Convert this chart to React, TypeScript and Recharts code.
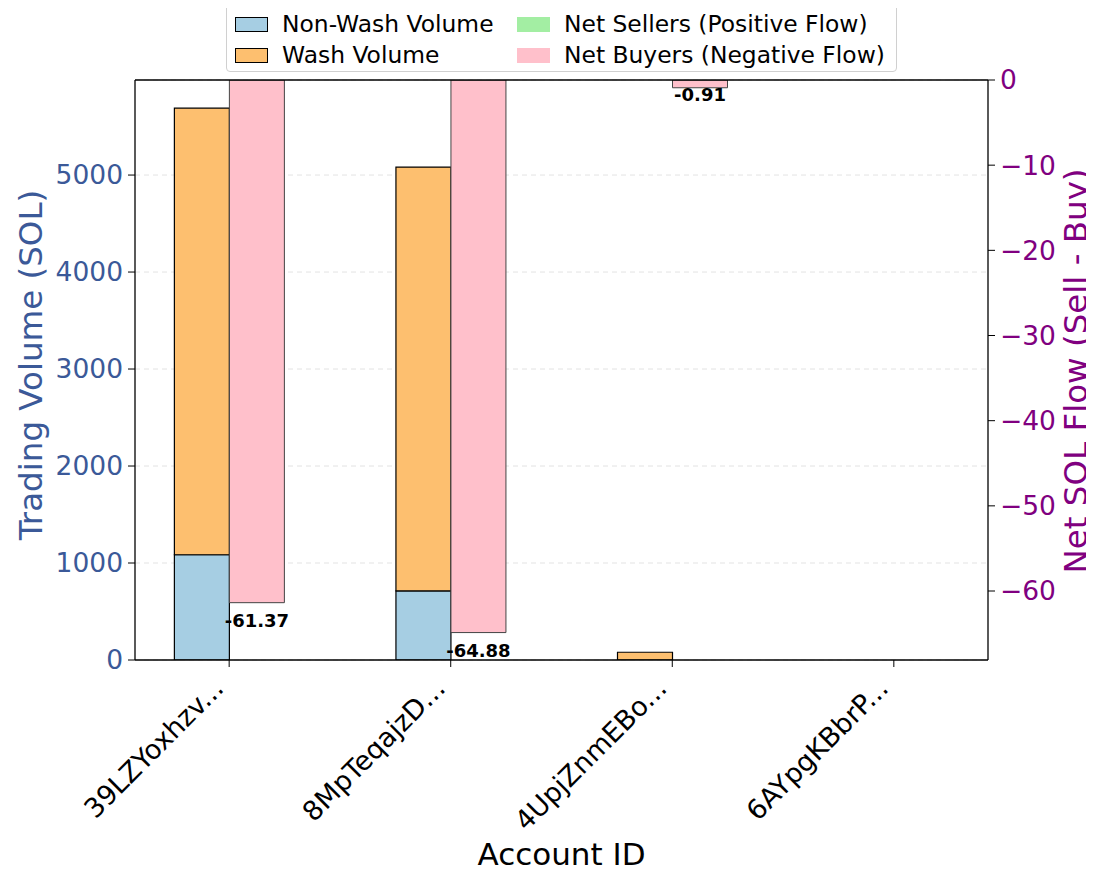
import React from "react";
import {
  BarChart,
  Bar,
  XAxis,
  YAxis,
  CartesianGrid,
  ReferenceLine,
  LabelList,
  Label,
  Cell,
} from "recharts";

const accounts = ["39LZYoxhzv...", "8MpTeqajzD...", "4UpjZnmEBo...", "6AYpgKBbrP..."];
const nonWashVolume = [1085, 712, 0, 0];
const washVolume = [4605, 4370, 80, 0];
const netFlow = [-61.37, -64.88, -0.91, 0];

const volumeTicks = [0, 1000, 2000, 3000, 4000, 5000];
const flowTicks = [0, -10, -20, -30, -40, -50, -60];

const data = accounts.map((name, i) => ({
  idx: i,
  name,
  nonWash: nonWashVolume[i],
  wash: washVolume[i],
  flow: netFlow[i],
}));

const FONT = "DejaVu Sans";
const BLUE = "#3b5998";
const PURPLE = "#800080";

const XTick = (props: any) => {
  const { x, y, payload } = props;
  const ax = x - 4;
  const ay = y + 21;
  return (
    <text
      x={ax}
      y={ay}
      transform={`rotate(-45, ${ax}, ${ay})`}
      textAnchor="end"
      fontSize={27}
      fontFamily={FONT}
      fill="#000"
    >
      {accounts[payload.value]}
    </text>
  );
};

const FlowLabel = (props: any) => {
  const { x, y, width, height, value } = props;
  if (!value) return null;
  const top = Math.min(y, y + height);
  // text top sits at 1.02 * value on the flow axis
  const ty = top + Math.abs(height) * 1.02;
  return (
    <text
      x={x + width / 2}
      y={ty}
      textAnchor="middle"
      dominantBaseline="hanging"
      fontSize={18}
      fontWeight="bold"
      fontFamily={FONT}
      fill="#000"
    >
      {Number(value).toFixed(2)}
    </text>
  );
};

const LegendBox = () => {
  const items = [
    { label: "Non-Wash Volume", color: "#a6cee3", edge: true, left: 8, top: 7 },
    { label: "Wash Volume", color: "#fdbf6f", edge: true, left: 8, top: 38 },
    { label: "Net Sellers (Positive Flow)", color: "#a3eea3", edge: false, left: 290, top: 7 },
    { label: "Net Buyers (Negative Flow)", color: "#ffc0cb", edge: false, left: 290, top: 38 },
  ];
  return (
    <div
      style={{
        position: "absolute",
        left: 226,
        top: 3,
        width: 671,
        height: 69,
        border: "1px solid #d0d0d0",
        borderRadius: 4,
        background: "#fff",
        fontFamily: FONT,
        fontSize: 23.4,
        boxSizing: "border-box",
      }}
    >
      {items.map((it) => (
        <div
          key={it.label}
          style={{
            position: "absolute",
            left: it.left,
            top: it.top,
            display: "flex",
            alignItems: "center",
            whiteSpace: "nowrap",
          }}
        >
          <div
            style={{
              width: 33,
              height: 15,
              background: it.color,
              border: it.edge ? "1.3px solid #000" : "none",
              boxSizing: "border-box",
              marginRight: 14,
            }}
          />
          <span style={{ lineHeight: "26px" }}>{it.label}</span>
        </div>
      ))}
    </div>
  );
};

export default function App() {
  return (
    <div style={{ position: "relative", width: 1094, height: 876, margin: "-8px 0 0 -8px", background: "#fff" }}>
      <BarChart
        width={1094}
        height={876}
        data={data}
        margin={{ top: 80, right: 0, left: 0, bottom: 0 }}
        barGap={0}
        barSize={55}
      >
        <CartesianGrid
          yAxisId="left"
          vertical={false}
          stroke="#e3e3e3"
          strokeDasharray="5 4"
        />
        <XAxis
          dataKey="idx"
          type="number"
          domain={[-0.425, 3.425]}
          ticks={[0, 1, 2, 3]}
          allowDataOverflow
          height={216}
          tick={<XTick />}
          tickSize={7}
          axisLine={{ stroke: "#000", strokeWidth: 1.3 }}
          tickLine={{ stroke: "#000" }}
        >
          <Label
            content={(p: any) => (
              <text
                x={p.viewBox.x + p.viewBox.width / 2}
                y={865}
                textAnchor="middle"
                fontSize={31}
                fontFamily={FONT}
                fill="#000"
              >
                Account ID
              </text>
            )}
          />
        </XAxis>
        <YAxis
          yAxisId="left"
          width={135}
          domain={[0, 5980]}
          ticks={volumeTicks}
          allowDataOverflow
          tickSize={7}
          tickMargin={5}
          tick={{ fill: BLUE, fontSize: 26.5, fontFamily: FONT }}
          axisLine={{ stroke: "#000", strokeWidth: 1.3 }}
          tickLine={{ stroke: "#000" }}
        >
          <Label
            content={() => (
              <text
                x={31}
                y={365}
                transform="rotate(-90, 31, 365)"
                textAnchor="middle"
                dominantBaseline="central"
                fontSize={32.5}
                fontFamily={FONT}
                fill={BLUE}
              >
                Trading Volume (SOL)
              </text>
            )}
          />
        </YAxis>
        <YAxis
          yAxisId="right"
          orientation="right"
          width={106}
          domain={[-68.1, 0]}
          ticks={flowTicks}
          allowDataOverflow
          tickSize={7}
          tickMargin={5}
          tick={{ fill: PURPLE, fontSize: 26.5, fontFamily: FONT }}
          tickFormatter={(v: number) => (v < 0 ? `\u2212${Math.abs(v)}` : `${v}`)}
          axisLine={{ stroke: "#000", strokeWidth: 1.3 }}
          tickLine={{ stroke: "#000" }}
        >
          <Label
            content={() => (
              <text
                x={1076}
                y={371}
                transform="rotate(-90, 1076, 371)"
                textAnchor="middle"
                dominantBaseline="central"
                fontSize={32.5}
                fontFamily={FONT}
                fill={PURPLE}
              >
                Net SOL Flow (Sell - Buy)
              </text>
            )}
          />
        </YAxis>
        <Bar
          yAxisId="left"
          dataKey="nonWash"
          stackId="vol"
          fill="#a6cee3"
          stroke="#000"
          strokeWidth={1.2}
          isAnimationActive={false}
        />
        <Bar
          yAxisId="left"
          dataKey="wash"
          stackId="vol"
          fill="#fdbf6f"
          stroke="#000"
          strokeWidth={1.2}
          isAnimationActive={false}
        />
        <Bar
          yAxisId="right"
          dataKey="flow"
          stroke="#444"
          strokeWidth={1}
          isAnimationActive={false}
        >
          {data.map((d) => (
            <Cell key={d.name} fill={d.flow >= 0 ? "#a3eea3" : "#ffc0cb"} />
          ))}
          <LabelList dataKey="flow" content={<FlowLabel />} />
        </Bar>
        <ReferenceLine yAxisId="right" y={0} stroke="#000" strokeWidth={1.3} />
      </BarChart>
      <LegendBox />
    </div>
  );
}
